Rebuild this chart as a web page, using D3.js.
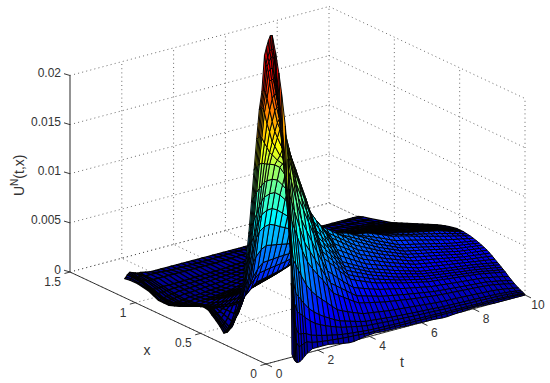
<!DOCTYPE html>
<html>
<head>
<meta charset="utf-8">
<script src="https://cdn.jsdelivr.net/npm/d3@7"></script>
<style>
    html, body { margin: 0; padding: 0; background: #fff; }
    svg { display: block; }
    text { font-family: "Liberation Sans", sans-serif; fill: #333; }
</style>
</head>
<body>
<svg id="chart" width="550" height="383"></svg>
<script>
var tTicks = [0, 2, 4, 6, 8, 10];
var xTicks = [0, 0.5, 1, 1.5];
var uTicks = [0, 0.005, 0.01, 0.015, 0.02];
var uTickLabels = ['0', '0.005', '0.01', '0.015', '0.02'];

var jetStops = ['#00007f', '#0000ff', '#00ffff', '#ffff00', '#ff0000', '#7f0000'];

var tValues = [1, 1.05, 1.1, 1.15, 1.2, 1.3, 1.4, 1.5, 1.6, 1.8, 2,
    2.2, 2.4, 2.6, 2.8, 3, 3.2, 3.4, 3.6, 3.8, 4, 4.2, 4.4, 4.6, 4.8, 5,
    5.2, 5.4, 5.6, 5.8, 6, 6.2, 6.4, 6.6, 6.8, 7, 7.2, 7.4, 7.6, 7.8, 8,
    8.2, 8.4, 8.6, 8.8, 9, 9.2, 9.4, 9.6, 9.8, 10];

var xValues = [0, 0.005, 0.01, 0.02, 0.03, 0.05, 0.08, 0.1, 0.125, 0.15, 0.165, 0.18, 0.195, 0.21, 0.23, 0.25, 0.27, 0.29, 0.31, 0.33,
    0.35, 0.37, 0.395, 0.42, 0.445, 0.47, 0.495, 0.52, 0.55, 0.58, 0.61, 0.64, 0.67, 0.7, 0.74, 0.78, 0.82, 0.86, 0.9, 0.94, 0.98, 1.02, 1.06, 1.1, 1.18, 1.24, 1.28];

// U in units of 1e-5, one row per x value
var uRows = [
    [30,-10,-40,-60,-70,-70,-50,-25,0,30,30, 30,30,20,10,0, -10,-10,0,10,15, 20,15,10,10,10, 10,5,5,5,0, 0,0,-5,-10,-10, -5,0,0,5,10, 10,5,5,0,0, 0,0,0,0,0],
    [750,590,320,180,130,80,90,100,110,90,80, 72,66,60,55,50, 46,43,40,36,32, 31,30,29,28,27, 26,25,24,24,23, 22,21,20,20,19, 19,18,18,17,17, 17,16,16,15,15, 14,13,12,10,8],
    [1200,830,540,350,280,210,200,200,190,160,145, 130,117,105,94,84, 78,72,67,61,56, 54,52,50,48,46, 45,44,43,41,40, 39,37,36,34,33, 32,31,30,30,29, 28,27,27,26,25, 23,21,18,15,12],
    [1700,1150,830,630,520,430,400,380,350,300,260, 232,208,187,168,150, 138,127,116,106,97, 93,90,86,82,79, 76,74,71,68,66, 64,62,60,57,55, 54,52,51,49,48, 47,45,44,42,41, 38,34,30,25,20],
    [2000,1400,1060,850,740,610,570,530,490,420,370, 330,295,265,235,210, 193,177,162,147,134, 129,124,118,113,108, 104,100,97,93,90, 87,84,81,77,74, 72,71,69,67,65, 63,62,60,58,56, 52,47,42,35,28],
    [2320,1790,1470,1220,1100,940,880,820,760,650,570, 510,460,410,360,310, 285,262,240,220,200, 192,184,176,168,160, 155,150,145,139,134, 129,124,119,114,110, 107,105,102,100,97, 95,92,89,86,83, 77,70,62,52,40],
    [2650,2240,1960,1710,1570,1400,1300,1220,1140,980,850, 765,690,620,540,460, 425,390,355,320,290, 278,266,254,242,230, 222,214,206,198,190, 183,176,169,162,156, 152,148,145,141,137, 134,131,127,122,118, 110,100,90,78,65],
    [2830,2500,2250,2000,1870,1680,1570,1470,1380,1200,1030, 930,830,740,640,550, 510,470,430,390,350, 335,320,305,290,276, 266,256,246,236,227, 218,209,201,192,184, 179,174,170,165,160, 156,152,148,144,140, 130,120,110,98,85],
    [3020,2780,2580,2350,2230,2020,1880,1770,1680,1450,1250, 1120,1000,880,770,660, 610,560,510,465,420, 400,382,364,347,330, 318,306,294,282,270, 260,249,239,228,218, 213,207,201,195,190, 185,180,175,170,165, 155,145,135,123,110],
    [3180,3030,2920,2690,2560,2350,2200,2070,1950,1700,1460, 1320,1180,1040,900,770, 715,660,600,545,490, 465,443,422,400,380, 366,352,338,324,310, 298,286,274,262,250, 244,238,232,226,220, 214,208,202,196,190, 180,170,160,150,140],
    [3170,3030,2950,2770,2640,2450,2310,2190,2070,1830,1590, 1435,1285,1135,980,835, 772,712,648,585,525, 500,476,455,432,410, 394,378,362,346,330, 318,305,293,281,268, 262,255,248,241,235, 228,222,215,209,202, 193,183,174,164,155],
    [3110,3000,2930,2820,2700,2540,2410,2300,2180,1950,1720, 1550,1390,1230,1060,900, 830,765,695,625,560, 535,510,488,463,440, 422,404,386,368,350, 338,325,312,300,287, 280,272,265,257,250, 243,236,229,222,215, 206,197,188,179,170],
    [3030,2930,2880,2800,2690,2530,2390,2270,2170,1980,1800, 1625,1460,1300,1125,960, 888,815,740,665,595, 568,541,516,490,465, 447,429,411,393,375, 361,346,332,318,303, 296,288,280,272,265, 258,251,244,237,230, 221,212,203,194,185],
    [2940,2850,2820,2760,2660,2480,2350,2220,2150,2000,1860, 1700,1530,1370,1190,1020, 945,865,785,705,630, 600,572,545,517,490, 472,454,436,418,400, 384,368,352,336,320, 312,304,296,288,280, 273,266,259,252,245, 236,227,218,209,200],
    [2560,2570,2560,2540,2480,2350,2230,2120,2050,1920,1820, 1670,1520,1380,1235,1095, 1012,932,847,762,680, 648,617,586,555,525, 505,486,466,447,428, 410,394,376,360,343, 334,326,317,308,300, 292,284,276,268,260, 252,244,236,228,220],
    [2360,2380,2380,2360,2320,2200,2110,2000,1950,1840,1780, 1640,1510,1390,1280,1170, 1080,1000,910,820,730, 695,662,628,594,560, 538,518,497,476,455, 437,419,401,384,366, 357,348,338,329,320, 311,302,293,284,275, 268,261,254,247,240],
    [2050,2060,2070,2060,2050,1990,1940,1880,1850,1780,1730, 1615,1505,1395,1290,1180, 1100,1020,940,858,775, 738,703,667,631,595, 572,550,528,505,482, 464,444,425,407,388, 378,369,359,350,340, 330,320,310,300,290, 284,277,270,264,258],
    [1720,1750,1750,1760,1770,1770,1760,1750,1740,1720,1680, 1590,1500,1400,1300,1190, 1120,1040,970,895,820, 782,745,706,668,630, 606,582,558,534,510, 490,470,450,430,410, 400,390,380,370,360, 349,338,327,316,305, 299,293,287,281,275],
    [1380,1410,1430,1450,1470,1500,1530,1550,1560,1560,1540, 1475,1400,1320,1230,1135, 1080,1020,968,910,855, 816,778,740,702,665, 639,613,587,561,535, 514,493,472,451,430, 420,409,398,388,378, 366,354,343,332,320, 314,307,300,294,288],
    [1050,1080,1120,1150,1180,1230,1300,1350,1380,1400,1400, 1360,1300,1240,1160,1080, 1040,1000,965,925,890, 850,812,775,737,700, 672,644,616,588,560, 538,516,494,472,450, 439,428,417,406,395, 383,371,359,347,335, 328,321,314,307,300],
    [780,810,850,890,930,1000,1080,1150,1190,1220,1225, 1195,1150,1105,1050,1000, 970,940,912,882,855, 828,802,776,750,725, 697,669,641,613,585, 562,539,516,493,470, 458,447,435,424,412, 400,388,375,362,350, 342,334,326,318,310],
    [550,580,620,660,700,780,870,950,1000,1040,1050, 1030,1000,975,945,920, 900,880,860,840,820, 805,791,777,763,750, 722,694,666,638,610, 586,562,538,514,490, 478,466,454,442,430, 417,404,391,378,365, 356,347,338,329,320],
    [350,380,410,440,470,530,600,680,730,790,820, 810,800,790,780,770, 770,770,770,765,760, 750,742,733,724,715, 698,682,665,648,630, 608,586,564,540,517, 505,493,480,466,452, 439,425,412,399,385, 374,363,352,341,330],
    [220,240,260,280,300,340,400,450,500,580,630, 635,640,645,648,650, 660,670,680,690,700, 698,694,690,685,680, 675,670,664,657,650, 630,610,590,567,545, 533,520,506,490,475, 461,447,433,419,405, 392,379,366,353,340],
    [100,115,140,170,190,230,300,360,400,460,510, 520,530,538,546,555, 570,585,600,615,630, 633,635,637,638,640, 638,635,632,628,625, 610,594,578,560,542, 532,520,507,493,480, 468,455,443,430,418, 403,389,374,360,345],
    [0,10,30,60,90,130,200,280,300,350,400, 412,424,436,448,460, 480,500,520,540,560, 568,576,584,592,600, 600,600,600,600,600, 590,578,565,552,540, 530,519,508,496,485, 474,463,452,441,430, 414,398,382,366,350],
    [-55,-40,-20,10,30,75,145,230,250,300,350, 364,378,392,406,420, 440,460,480,500,520, 529,538,547,556,565, 567,569,571,573,575, 565,554,542,531,520, 511,501,492,482,472, 462,452,442,432,422, 408,394,379,365,350],
    [-80,-70,-60,-50,-30,20,90,180,200,250,300, 316,332,348,364,380, 400,420,440,460,480, 490,500,510,520,530, 534,538,542,546,550, 540,530,520,510,500, 492,484,476,468,460, 451,442,433,424,415, 402,389,376,363,350],
    [-30,-30,-25,-15,-5,35,90,150,170,215,260, 276,292,308,324,340, 360,380,400,420,440, 450,460,470,480,490, 496,502,508,514,520, 512,504,496,488,480, 473,466,459,452,445, 436,428,420,411,402, 390,378,366,354,342],
    [10,10,10,20,20,50,90,120,140,180,220, 236,252,268,284,300, 320,340,360,380,400, 410,420,430,440,450, 458,466,474,482,490, 484,478,472,466,460, 454,448,442,436,430, 422,414,406,398,390, 379,368,357,346,335],
    [45,45,45,50,50,65,85,100,115,150,190, 205,220,235,250,265, 284,303,322,341,360, 371,382,393,404,415, 424,433,442,451,460, 455,450,445,440,435, 430,425,420,415,410, 403,396,389,382,375, 364,354,344,333,322],
    [80,80,80,80,80,80,80,80,90,120,160, 174,188,202,216,230, 248,266,284,302,320, 332,344,356,368,380, 390,400,410,420,430, 426,422,418,414,410, 406,402,398,394,390, 384,378,372,366,360, 350,340,330,320,310],
    [88,85,80,80,75,70,65,60,70,95,130, 143,156,169,182,195, 213,231,249,267,285, 298,311,324,337,350, 360,370,380,390,400, 397,394,391,388,385, 381,378,374,371,368, 362,356,351,346,340, 331,322,313,304,295],
    [90,90,80,80,70,60,50,40,50,70,100, 112,124,136,148,160, 178,196,214,232,250, 264,278,292,306,320, 330,340,350,360,370, 368,366,364,362,360, 357,354,351,348,345, 340,335,330,325,320, 312,304,296,288,280],
    [65,60,55,50,45,35,25,20,25,40,65, 75,85,95,105,115, 132,149,166,183,200, 215,230,245,260,275, 286,297,308,319,330, 329,328,327,326,325, 322,320,318,315,312, 308,304,300,296,292, 285,278,271,264,258],
    [40,30,30,20,20,10,0,0,0,10,30, 38,46,54,62,70, 86,102,118,134,150, 166,182,198,214,230, 242,254,266,278,290, 290,290,290,290,290, 288,286,284,282,280, 277,274,271,268,265, 259,253,247,241,235],
    [10,5,5,-5,-5,-10,-15,-15,-15,-5,5, 12,19,26,33,40, 55,70,85,100,115, 131,147,163,179,195, 206,217,228,239,250, 252,254,256,258,260, 258,257,255,254,252, 250,248,245,242,240, 234,229,223,218,212],
    [-20,-20,-20,-30,-30,-30,-30,-30,-30,-20,-20, -14,-8,-2,4,10, 24,38,52,66,80, 96,112,128,144,160, 170,180,190,200,210, 214,218,222,226,230, 229,228,227,226,225, 223,221,219,217,215, 210,205,200,195,190],
    [-40,-40,-40,-40,-40,-40,-40,-35,-35,-25,-25, -20,-15,-10,-5,0, 12,24,36,48,60, 73,86,99,112,125, 136,147,158,169,180, 184,188,192,196,200, 200,199,198,198,197, 196,195,193,192,190, 185,181,176,172,168],
    [-60,-60,-60,-50,-50,-50,-50,-40,-40,-30,-30, -26,-22,-18,-14,-10, 0,10,20,30,40, 50,60,70,80,90, 102,114,126,138,150, 154,158,162,166,170, 170,170,170,170,170, 169,168,167,166,165, 161,157,153,149,145],
    [-60,-60,-55,-50,-50,-45,-45,-35,-35,-25,-25, -21,-17,-13,-9,-5, 2,9,16,23,30, 38,46,54,62,70, 80,90,100,110,120, 124,128,132,136,140, 140,141,141,142,142, 142,142,141,141,140, 136,133,130,126,122],
    [-60,-60,-50,-50,-50,-40,-40,-30,-30,-20,-20, -16,-12,-8,-4,0, 4,8,12,16,20, 26,32,38,44,50, 58,66,74,82,90, 94,98,102,106,110, 111,112,113,114,115, 115,115,115,115,115, 112,109,106,103,100],
    [-35,-35,-30,-30,-30,-25,-25,-20,-20,-15,-15, -12,-9,-6,-3,0, 3,6,9,12,15, 20,25,30,35,40, 47,54,61,68,75, 78,81,84,87,90, 91,92,93,94,95, 95,95,95,95,95, 93,91,89,87,85],
    [-10,-10,-10,-10,-10,-10,-10,-10,-10,-10,-10, -8,-6,-4,-2,0, 2,4,6,8,10, 14,18,22,26,30, 36,42,48,54,60, 62,64,66,68,70, 71,72,73,74,75, 75,75,75,75,75, 74,73,72,71,70],
    [10,10,20,20,20,20,10,10,10,10,10, 10,10,10,10,10, 10,10,10,10,10, 12,14,16,18,20, 22,24,26,28,30, 32,34,36,38,40, 40,40,40,40,40, 40,40,40,40,40, 40,40,40,40,40],
    [10,20,30,30,30,20,20,20,10,10,10, 10,5,0,0,0, 0,0,0,0,0, 2,4,6,8,10, 10,10,10,10,10, 12,14,16,18,20, 20,20,20,20,20, 20,20,20,20,20, 20,20,20,20,20],
    [0,10,30,40,50,40,30,20,20,10,0, 0,0,0,0,0, 0,0,0,0,0, 0,0,0,0,0, 0,0,0,0,0, 0,0,0,0,0, 0,0,0,0,0, 0,0,0,0,0, 0,0,0,0,0]
];

var svg = d3.select('#chart');

// parallel projection: each data axis moves the point along its own screen direction
var originX = 266;
var originY = 364;
var pxT = d3.scaleLinear().domain([0, 10]).range([0, 259]);
var pyT = d3.scaleLinear().domain([0, 10]).range([0, -69]);
var pxX = d3.scaleLinear().domain([0, 1.5]).range([0, -196]);
var pyX = d3.scaleLinear().domain([0, 1.5]).range([0, -92]);
var pyU = d3.scaleLinear().domain([0, 0.02]).range([0, -196.5]);

function project(t, x, u) {
    return [originX + pxT(t) + pxX(x), originY + pyT(t) + pyX(x) + pyU(u)];
}

var uMin = d3.min(uRows, function(row) { return d3.min(row); }) * 1e-5;
var uMax = d3.max(uRows, function(row) { return d3.max(row); }) * 1e-5;

var jet = d3.scaleLinear()
    .domain([0, 0.125, 0.375, 0.625, 0.875, 1].map(function(f) { return uMin + f * (uMax - uMin); }))
    .range(jetStops);

var line = d3.line();

function segment(parent, a, b, cls) {
    parent.append('path').attr('class', cls).attr('d', line([a, b]));
}

// dotted box grid
var grid = svg.append('g')
    .attr('fill', 'none')
    .attr('stroke', '#444')
    .attr('stroke-width', 0.8)
    .attr('stroke-dasharray', '1,3.2');

uTicks.forEach(function(u) {
    segment(grid, project(0, 1.5, u), project(10, 1.5, u));
    segment(grid, project(10, 1.5, u), project(10, 0, u));
});
tTicks.forEach(function(t) {
    if (t > 0) segment(grid, project(t, 1.5, 0), project(t, 1.5, 0.02));
    segment(grid, project(t, 0, 0), project(t, 1.5, 0));
});
xTicks.forEach(function(x) {
    if (x < 1.5) segment(grid, project(10, x, 0), project(10, x, 0.02));
    segment(grid, project(0, x, 0), project(10, x, 0));
});

// axis lines and ticks
var axes = svg.append('g').attr('fill', 'none').attr('stroke', '#222').attr('stroke-width', 0.9);

segment(axes, project(0, 1.5, 0), project(0, 0, 0));
segment(axes, project(0, 0, 0), project(10, 0, 0));
axes.append('path')
    .attr('d', line([project(0, 1.5, 0), project(0, 1.5, 0.02)]))
    .attr('stroke', '#666')
    .attr('stroke-width', 1.4);

uTicks.forEach(function(u) {
    var p = project(0, 1.5, u);
    segment(axes, p, [p[0] - 6, p[1] - 1.8]);
});
xTicks.forEach(function(x) {
    var p = project(0, x, 0);
    segment(axes, p, [p[0] - 5.5, p[1] + 1.5]);
});
tTicks.forEach(function(t) {
    var p = project(t, 0, 0);
    segment(axes, p, [p[0] + 6, p[1] + 2.9]);
});

// surface cells, far ones first so the near ones paint over them
var cells = [];
d3.range(xValues.length - 1).forEach(function(i) {
    d3.range(tValues.length - 1).forEach(function(j) {
        var corners = [[i, j], [i, j + 1], [i + 1, j + 1], [i + 1, j]];
        var us = corners.map(function(c) { return uRows[c[0]][c[1]] * 1e-5; });
        cells.push({
            path: corners.map(function(c, k) { return project(tValues[c[1]], xValues[c[0]], us[k]); }),
            u: d3.mean(us),
            far: xValues[i] >= 0.47,
            depth: project((tValues[j] + tValues[j + 1]) / 2, (xValues[i] + xValues[i + 1]) / 2, 0)[1]
        });
    });
});
cells.sort(function(a, b) { return d3.ascending(a.depth, b.depth); });

svg.append('g')
    .attr('stroke', '#000')
    .attr('stroke-linejoin', 'round')
    .selectAll('path')
    .data(cells)
    .join('path')
    .attr('d', function(d) { return line(d.path) + 'Z'; })
    .attr('stroke-width', function(d) { return d.far ? 1.25 : 0.95; })
    .attr('fill', function(d) { return jet(d.u); });

// tick labels
var labels = svg.append('g').attr('font-size', 12);

uTicks.forEach(function(u, i) {
    var p = project(0, 1.5, u);
    labels.append('text').attr('x', p[0] - 9).attr('y', p[1] + 1.5)
        .attr('text-anchor', 'end').text(uTickLabels[i]);
});
xTicks.forEach(function(x) {
    var p = project(0, x, 0);
    labels.append('text').attr('x', p[0] - 9).attr('y', p[1] + 14)
        .attr('text-anchor', 'end').text(x);
});
tTicks.forEach(function(t) {
    var p = project(t, 0, 0);
    labels.append('text').attr('x', p[0] + 13).attr('y', p[1] + 14)
        .attr('text-anchor', 'middle').text(t);
});

// axis titles
svg.append('text').attr('x', 147).attr('y', 355).attr('font-size', 14)
    .attr('text-anchor', 'middle').text('x');
svg.append('text').attr('x', 402).attr('y', 367).attr('font-size', 14)
    .attr('text-anchor', 'middle').text('t');

var yLabel = svg.append('text')
    .attr('transform', 'translate(24,196) rotate(-90)')
    .attr('font-size', 14);
yLabel.append('tspan').text('U');
yLabel.append('tspan').attr('font-size', 10).attr('dy', -6).text('N');
yLabel.append('tspan').attr('dy', 6).text('(t,x)');
</script>
</body>
</html>
